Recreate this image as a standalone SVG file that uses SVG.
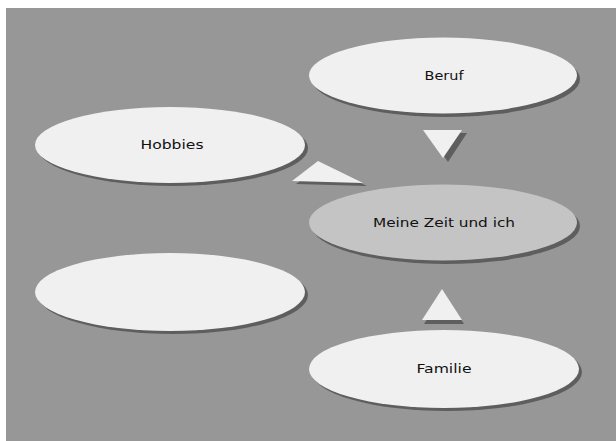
<svg xmlns="http://www.w3.org/2000/svg" width="616" height="441" viewBox="0 0 616 441">
<style>
.bg{fill:#979797}
.sh{fill:#5e5e5e}
.n{fill:#f0f0f0}
.c{fill:#c4c4c4}
.t{font-family:"DejaVu Sans",sans-serif;font-size:13px;fill:#111;text-anchor:middle}
</style>
<rect width="616" height="441" fill="#ffffff"/>
<rect class="bg" x="6" y="8" width="610" height="433"/>
<g id="connectors">
<polygon class="sh" points="296,184 367,186 322,165"/>
<polygon class="n" points="292,181 363,183 318,161"/>
<polygon class="sh" points="428,133 467,133 448,162"/>
<polygon class="n" points="423,130 462,130 443,158"/>
<polygon class="sh" points="424,324 464,324 444,293"/>
<polygon class="n" points="422,320 462,320 442,289"/>
</g>
<g id="beruf">
<ellipse class="sh" cx="446" cy="79" rx="134" ry="38"/>
<ellipse class="n" cx="443" cy="75.5" rx="134" ry="38"/>
<text class="t" x="444" y="80" textLength="39" lengthAdjust="spacingAndGlyphs">Beruf</text>
</g>
<g id="hobbies">
<ellipse class="sh" cx="173" cy="148" rx="135" ry="38"/>
<ellipse class="n" cx="170" cy="145" rx="135" ry="38"/>
<text class="t" x="172" y="149" textLength="63" lengthAdjust="spacingAndGlyphs">Hobbies</text>
</g>
<g id="center">
<ellipse class="sh" cx="446" cy="226" rx="134" ry="38"/>
<ellipse class="c" cx="443" cy="222.5" rx="134" ry="38"/>
<text class="t" x="444" y="227" textLength="142" lengthAdjust="spacingAndGlyphs">Meine Zeit und ich</text>
</g>
<g id="empty">
<ellipse class="sh" cx="173" cy="295" rx="135" ry="39"/>
<ellipse class="n" cx="170" cy="292" rx="135" ry="39"/>
</g>
<g id="familie">
<ellipse class="sh" cx="447" cy="372" rx="135" ry="39"/>
<ellipse class="n" cx="444" cy="369" rx="135" ry="39"/>
<text class="t" x="444" y="373" textLength="55" lengthAdjust="spacingAndGlyphs">Familie</text>
</g>
</svg>
